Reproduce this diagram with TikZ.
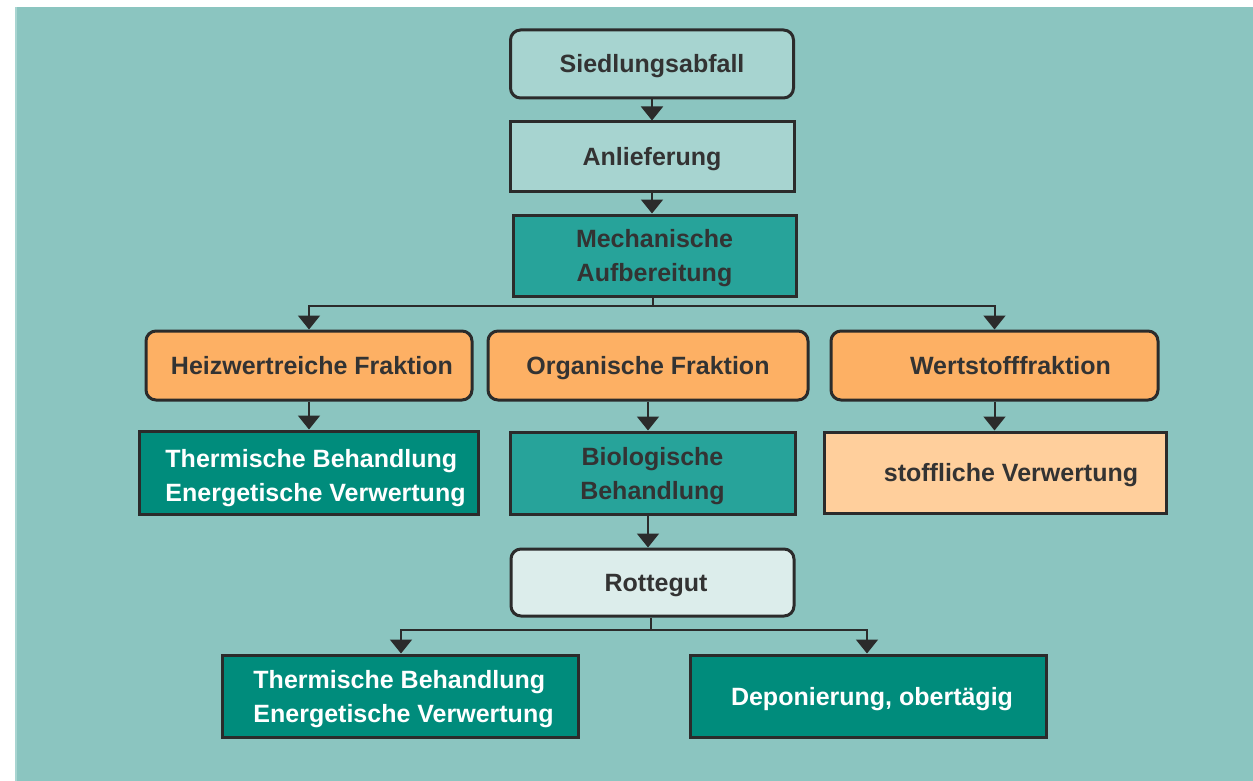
\documentclass[tikz,border=0pt]{standalone}
\usepackage{fontspec}
\setmainfont{Liberation Sans}
\usetikzlibrary{arrows.meta,calc}
\definecolor{bg}{HTML}{8BC5C0}
\definecolor{bgedge}{HTML}{A9D5D1}
\definecolor{lightteal}{HTML}{A7D4D0}
\definecolor{midteal}{HTML}{27A39A}
\definecolor{darkteal}{HTML}{008C7C}
\definecolor{orangef}{HTML}{FDB064}
\definecolor{peach}{HTML}{FFCF9C}
\definecolor{pale}{HTML}{DCEDEB}
\definecolor{ink}{HTML}{2B2B2B}
\definecolor{txt}{HTML}{333333}
\tikzset{
  box/.style={draw=ink, line width=3pt, rectangle, inner sep=0pt, font=\fontsize{25}{34}\selectfont\bfseries, text=txt, align=center, text depth=0pt},
  oneline/.style={text height=18pt},
  rbox/.style={box, rounded corners=10pt},
  arr/.style={draw=ink, line width=2pt, -{Triangle[length=14pt,width=22pt]}},
  conn/.style={draw=ink, line width=2pt}
}
\begin{document}
\begin{tikzpicture}[x=1pt,y=-1pt]
\useasboundingbox (0,0) rectangle (1253,781);
\fill[white] (0,0) rectangle (1253,781);
\fill[bg] (15,7) rectangle (1253,781);
\fill[bgedge] (15,7) rectangle (17,781);

\node[rbox, oneline, fill=lightteal, minimum width=283pt, minimum height=68pt] (sied) at (652,64) {Siedlungsabfall};
\node[box, oneline, fill=lightteal, minimum width=284pt, minimum height=69pt] (anl) at (652,156.5) {Anlieferung};
\node[box, fill=midteal, minimum width=283pt, minimum height=81pt] (mech) at (654.5,255.5) {Mechanische\\Aufbereitung};

\node[rbox, oneline, fill=orangef, minimum width=326pt, minimum height=69pt] (heiz) at (309,365.5) {\hspace*{6pt}Heizwertreiche Fraktion};
\node[rbox, oneline, fill=orangef, minimum width=320pt, minimum height=69pt] (org) at (648,365.5) {Organische Fraktion};
\node[rbox, oneline, fill=orangef, minimum width=327pt, minimum height=69pt] (wert) at (994.5,365.5) {\hspace*{32pt}Wertstofffraktion};

\node[box, fill=darkteal, text=white, align=left, minimum width=339pt, minimum height=83pt] (th1) at (308.5,472.5) {\rule{0pt}{23pt}\hspace*{14pt}Thermische Behandlung\\\hspace*{14pt}Energetische Verwertung};
\node[box, fill=midteal, minimum width=285pt, minimum height=82pt] (bio) at (652.5,473) {Biologische\\Behandlung};
\node[box, oneline, fill=peach, minimum width=342pt, minimum height=81pt] (stoff) at (995,472.5) {\hspace*{32pt}stoffliche Verwertung};

\node[rbox, oneline, fill=pale, minimum width=283pt, minimum height=67pt] (rotte) at (652.5,582.5) {\hspace*{7pt}Rottegut};

\node[box, fill=darkteal, text=white, align=left, minimum width=356pt, minimum height=82pt] (th2) at (400,696) {\hspace*{7pt}Thermische Behandlung\\\hspace*{7pt}Energetische Verwertung};
\node[box, oneline, fill=darkteal, text=white, minimum width=356pt, minimum height=82pt] (depo) at (868,696) {\hspace*{8pt}Deponierung, obertägig};

\coordinate (b1) at (653,306);
\coordinate (b2) at (651,630);

\draw[arr] (sied.south) -- (anl.north);
\draw[arr] (anl.south) -- (anl.south |- mech.north);
\draw[conn] (mech.south -| b1) -- (b1);
\draw[arr] (b1) -| (heiz.north);
\draw[arr] (b1) -| (wert.north);
\draw[arr] (heiz.south) -- (heiz.south |- th1.north);
\draw[arr] (org.south) -- (org.south |- bio.north);
\draw[arr] (wert.south) -- (wert.south |- stoff.north);
\draw[arr] (bio.south -| org.south) -- (org.south |- rotte.north);
\draw[conn] (rotte.south -| b2) -- (b2);
\draw[arr] (b2) -| ([xshift=1pt]th2.north);
\draw[arr] (b2) -| ([xshift=-1pt]depo.north);
\end{tikzpicture}
\end{document}
